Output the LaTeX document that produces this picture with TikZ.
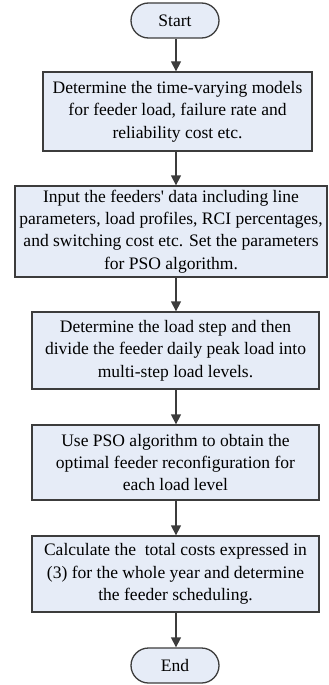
\documentclass[tikz,border=0pt]{standalone}
\usepackage{fontspec}
\setmainfont{Liberation Serif}
\usetikzlibrary{arrows.meta,shapes.misc}
\definecolor{boxfill}{RGB}{230,236,247}
\definecolor{edge}{RGB}{60,60,60}
\begin{document}
\begin{tikzpicture}[x=1bp,y=-1bp,
  stepbox/.style={draw=edge,fill=boxfill,line width=1.3bp,align=center,inner sep=0pt,
    font=\fontsize{17.6}{22.5}\selectfont},
  term/.style={draw=edge,fill=boxfill,line width=1.3bp,rounded rectangle,inner sep=0pt,
    minimum width=88bp,minimum height=35bp,font=\fontsize{17.6}{22.5}\selectfont},
  flow/.style={draw=edge,line width=1.3bp,-{Triangle[length=10bp,width=10bp]}}]
\useasboundingbox (0,0) rectangle (328,685);
\node[term] (start) at (175,20.5) {Start};
\node[stepbox,minimum width=269bp,minimum height=79bp] (b1) at (177.5,111.5)
  {Determine the time-varying models\\for feeder load, failure rate and\\reliability cost etc.};
\node[stepbox,minimum width=312bp,minimum height=91bp] (b2) at (171,231.5)
  {Input the feeders\textquotesingle\ data including line\\parameters, load profiles, RCI percentages,\\and switching cost etc. Set the parameters\\for PSO algorithm.};
\node[stepbox,minimum width=287bp,minimum height=77bp] (b3) at (175.5,350.5)
  {Determine the load step and then\\divide the feeder daily peak load into\\multi-step load levels.};
\node[stepbox,minimum width=287bp,minimum height=75bp] (b4) at (175.5,462.5)
  {Use PSO algorithm to obtain the\\optimal feeder reconfiguration for\\each load level};
\node[stepbox,minimum width=287bp,minimum height=76bp] (b5) at (175.5,574)
  {Calculate the\ \ total costs expressed in\\(3) for the whole year and determine\\the feeder scheduling.};
\node[term] (end) at (175,665.5) {End};
\coordinate (ax) at (176,0);
\draw[flow] (ax |- start.south) -- (ax |- b1.north);
\draw[flow] (ax |- b1.south) -- (ax |- b2.north);
\draw[flow] (ax |- b2.south) -- (ax |- b3.north);
\draw[flow] (ax |- b3.south) -- (ax |- b4.north);
\draw[flow] (ax |- b4.south) -- (ax |- b5.north);
\draw[flow] (ax |- b5.south) -- (ax |- end.north);
\end{tikzpicture}
\end{document}
